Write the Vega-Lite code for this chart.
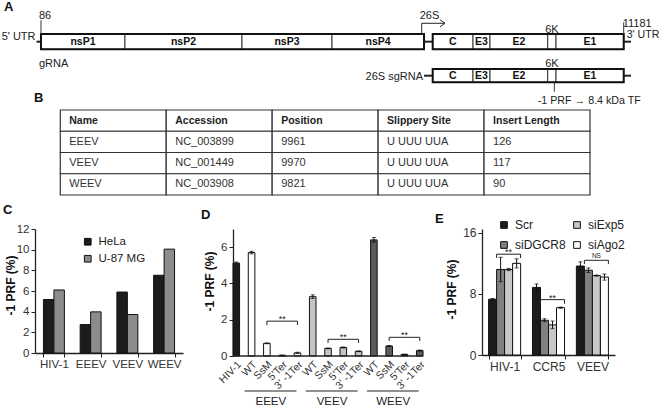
{
  "$schema": "https://vega.github.io/schema/vega-lite/v6.json",
  "padding": {"left": 1, "top": 0, "right": 0, "bottom": 0},
  "background": "white",
  "bounds": "flush",
  "spacing": 34,
  "resolve": {"scale": {"color": "independent", "xOffset": "independent"}, "legend": {"color": "independent"}},
  "config": {
    "view": {"stroke": null},
    "font": "Liberation Sans",
    "title": {"font": "Liberation Sans", "fontSize": 13, "fontWeight": "bold", "color": "#111", "anchor": "start", "frame": "group"},
    "axis": {"grid": false, "domainColor": "#222", "domainWidth": 1.3, "tickColor": "#222", "tickSize": 4, "labelColor": "#333", "labelFont": "Liberation Sans", "labelFontSize": 11.5, "labelPadding": 2, "titleFont": "Liberation Sans", "titleFontSize": 12, "titleFontWeight": "bold", "titleColor": "#111"},
    "text": {"font": "Liberation Sans", "color": "#222"}
  },
  "datasets": {
    "genes": [
      {"gene": "nsP1", "start": 86, "end": 1685, "rna": "gRNA"},
      {"gene": "nsP2", "start": 1685, "end": 3913, "rna": "gRNA"},
      {"gene": "nsP3", "start": 3913, "end": 5627, "rna": "gRNA"},
      {"gene": "nsP4", "start": 5627, "end": 7379, "rna": "gRNA"},
      {"gene": "C", "start": 7544, "end": 8312, "rna": "gRNA"},
      {"gene": "E3", "start": 8312, "end": 8635, "rna": "gRNA"},
      {"gene": "E2", "start": 8635, "end": 9734, "rna": "gRNA"},
      {"gene": "6K", "start": 9734, "end": 9892, "rna": "gRNA"},
      {"gene": "E1", "start": 9892, "end": 11181, "rna": "gRNA"},
      {"gene": "C", "start": 7544, "end": 8312, "rna": "sgRNA"},
      {"gene": "E3", "start": 8312, "end": 8635, "rna": "sgRNA"},
      {"gene": "E2", "start": 8635, "end": 9734, "rna": "sgRNA"},
      {"gene": "6K", "start": 9734, "end": 9892, "rna": "sgRNA"},
      {"gene": "E1", "start": 9892, "end": 11181, "rna": "sgRNA"}
    ],
    "orfs": [
      {"rna": "gRNA", "start": 86, "end": 7379},
      {"rna": "gRNA", "start": 7544, "end": 11181},
      {"rna": "sgRNA", "start": 7544, "end": 11181}
    ],
    "backbone": [
      {"rna": "gRNA", "start": 1, "end": 86},
      {"rna": "gRNA", "start": 7379, "end": 7544},
      {"rna": "gRNA", "start": 11181, "end": 11320},
      {"rna": "sgRNA", "start": 7379, "end": 7544},
      {"rna": "sgRNA", "start": 11181, "end": 11320}
    ],
    "sites": [
      {"site": "86", "pos": 86},
      {"site": "11181", "pos": 11181},
      {"site": "26S", "pos": 7335},
      {"site": "PRF", "pos": 9860}
    ],
    "labels": [
      {"text": "5' UTR", "pos": 1},
      {"text": "3' UTR", "pos": 11181},
      {"text": "gRNA", "pos": 86},
      {"text": "26S sgRNA", "pos": 7379},
      {"text": "-1 PRF → 8.4 kDa TF", "pos": 9860}
    ],
    "table": [
      {"row": "header", "Name": "Name", "Accession": "Accession", "Position": "Position", "Slippery Site": "Slippery Site", "Insert Length": "Insert Length"},
      {"row": "EEEV", "Name": "EEEV", "Accession": "NC_003899", "Position": "9961", "Slippery Site": "U UUU UUA", "Insert Length": "126"},
      {"row": "VEEV", "Name": "VEEV", "Accession": "NC_001449", "Position": "9970", "Slippery Site": "U UUU UUA", "Insert Length": "117"},
      {"row": "WEEV", "Name": "WEEV", "Accession": "NC_003908", "Position": "9821", "Slippery Site": "U UUU UUA", "Insert Length": "90"}
    ],
    "panelC": [
      {"virus": "HIV-1", "cell": "HeLa", "value": 5.17},
      {"virus": "HIV-1", "cell": "U-87 MG", "value": 6.1},
      {"virus": "EEEV", "cell": "HeLa", "value": 2.75},
      {"virus": "EEEV", "cell": "U-87 MG", "value": 3.98},
      {"virus": "VEEV", "cell": "HeLa", "value": 5.9},
      {"virus": "VEEV", "cell": "U-87 MG", "value": 3.72},
      {"virus": "WEEV", "cell": "HeLa", "value": 7.52},
      {"virus": "WEEV", "cell": "U-87 MG", "value": 10.05}
    ],
    "panelD": [
      {"key": "HIV-1", "virus": "HIV-1", "value": 5.12, "err": 0.06},
      {"key": "EEEV|WT", "virus": "EEEV", "value": 5.7, "err": 0.07},
      {"key": "EEEV|SsM", "virus": "EEEV", "value": 0.7, "err": 0.02},
      {"key": "EEEV|5'Ter", "virus": "EEEV", "value": 0.04, "err": 0.01},
      {"key": "EEEV|3' -1Ter", "virus": "EEEV", "value": 0.17, "err": 0.03},
      {"key": "VEEV|WT", "virus": "VEEV", "value": 3.27, "err": 0.1},
      {"key": "VEEV|SsM", "virus": "VEEV", "value": 0.42, "err": 0.02},
      {"key": "VEEV|5'Ter", "virus": "VEEV", "value": 0.47, "err": 0.03},
      {"key": "VEEV|3' -1Ter", "virus": "VEEV", "value": 0.26, "err": 0.02},
      {"key": "WEEV|WT", "virus": "WEEV", "value": 6.4, "err": 0.13},
      {"key": "WEEV|SsM", "virus": "WEEV", "value": 0.55, "err": 0.03},
      {"key": "WEEV|5'Ter", "virus": "WEEV", "value": 0.09, "err": 0.01},
      {"key": "WEEV|3' -1Ter", "virus": "WEEV", "value": 0.3, "err": 0.03}
    ],
    "bracketsD": [
      {"from": "EEEV|SsM", "to": "EEEV|3' -1Ter", "mid": "EEEV|5'Ter", "top": 1.92, "bottom": 1.7, "label": "**"},
      {"from": "VEEV|SsM", "to": "VEEV|3' -1Ter", "mid": "VEEV|5'Ter", "top": 0.92, "bottom": 0.72, "label": "**"},
      {"from": "WEEV|SsM", "to": "WEEV|3' -1Ter", "mid": "WEEV|5'Ter", "top": 1.03, "bottom": 0.83, "label": "**"}
    ],
    "groupsD": [
      {"group": "EEEV", "from": "EEEV|WT", "to": "EEEV|3' -1Ter", "at": "EEEV|SsM"},
      {"group": "VEEV", "from": "VEEV|WT", "to": "VEEV|3' -1Ter", "at": "VEEV|SsM"},
      {"group": "WEEV", "from": "WEEV|WT", "to": "WEEV|3' -1Ter", "at": "WEEV|SsM"}
    ],
    "panelE": [
      {"group": "HIV-1", "siRNA": "Scr", "value": 7.3, "err": 0.1},
      {"group": "HIV-1", "siRNA": "siDGCR8", "value": 11.2, "err": 1.6},
      {"group": "HIV-1", "siRNA": "siExp5", "value": 11.2, "err": 0.15},
      {"group": "HIV-1", "siRNA": "siAgo2", "value": 12.0, "err": 0.6},
      {"group": "CCR5", "siRNA": "Scr", "value": 8.85, "err": 0.45},
      {"group": "CCR5", "siRNA": "siDGCR8", "value": 4.55, "err": 0.2},
      {"group": "CCR5", "siRNA": "siExp5", "value": 3.95, "err": 0.5},
      {"group": "CCR5", "siRNA": "siAgo2", "value": 6.2, "err": 0.08},
      {"group": "VEEV", "siRNA": "Scr", "value": 11.65, "err": 0.55},
      {"group": "VEEV", "siRNA": "siDGCR8", "value": 11.1, "err": 0.3},
      {"group": "VEEV", "siRNA": "siExp5", "value": 10.4, "err": 0.08},
      {"group": "VEEV", "siRNA": "siAgo2", "value": 10.2, "err": 0.4}
    ],
    "bracketsE": [
      {"group": "HIV-1", "top": 13.2, "bottom": 12.7, "label": "**"},
      {"group": "CCR5", "top": 7.25, "bottom": 6.7, "label": "**"},
      {"group": "VEEV", "top": 12.4, "bottom": 11.9, "label": "NS"}
    ]
  },
  "vconcat": [
    {
      "width": 626,
      "height": 76,
      "title": {"text": "A", "dx": -31, "dy": 14, "offset": 0},
      "layer": [
        {
          "data": {"name": "backbone"},
          "transform": [{"filter": {"field": "rna", "equal": "gRNA"}}],
          "mark": {"type": "rule", "strokeWidth": 2, "color": "#222"},
          "encoding": {
            "x": {"field": "start", "type": "quantitative", "scale": {"domain": [-28, 11891], "nice": false, "zero": false}, "axis": null},
            "x2": {"field": "end"},
            "y": {"datum": 1, "type": "quantitative", "scale": {"domain": [-0.226, 2.009], "reverse": true, "nice": false, "zero": false}, "axis": null}
          }
        },
        {
          "data": {"name": "backbone"},
          "transform": [{"filter": {"field": "rna", "equal": "sgRNA"}}],
          "mark": {"type": "rule", "strokeWidth": 2, "color": "#222"},
          "encoding": {
            "x": {"field": "start", "type": "quantitative"},
            "x2": {"field": "end"},
            "y": {"datum": 2, "type": "quantitative"}
          }
        },
        {
          "data": {"name": "genes"},
          "transform": [{"filter": {"field": "rna", "equal": "gRNA"}}],
          "mark": {"type": "rect", "fill": "white", "stroke": "#333", "strokeWidth": 1},
          "encoding": {
            "x": {"field": "start", "type": "quantitative"},
            "x2": {"field": "end"},
            "y": {"datum": 0.7735, "type": "quantitative"},
            "y2": {"datum": 1.2235}
          }
        },
        {
          "data": {"name": "genes"},
          "transform": [{"filter": {"field": "rna", "equal": "sgRNA"}}],
          "mark": {"type": "rect", "fill": "white", "stroke": "#333", "strokeWidth": 1},
          "encoding": {
            "x": {"field": "start", "type": "quantitative"},
            "x2": {"field": "end"},
            "y": {"datum": 1.803, "type": "quantitative"},
            "y2": {"datum": 2.194}
          }
        },
        {
          "data": {"name": "orfs"},
          "transform": [{"filter": {"field": "rna", "equal": "gRNA"}}],
          "mark": {"type": "rect", "fillOpacity": 0, "stroke": "#111", "strokeWidth": 2},
          "encoding": {
            "x": {"field": "start", "type": "quantitative"},
            "x2": {"field": "end"},
            "y": {"datum": 0.7735, "type": "quantitative"},
            "y2": {"datum": 1.2235}
          }
        },
        {
          "data": {"name": "orfs"},
          "transform": [{"filter": {"field": "rna", "equal": "sgRNA"}}],
          "mark": {"type": "rect", "fillOpacity": 0, "stroke": "#111", "strokeWidth": 2},
          "encoding": {
            "x": {"field": "start", "type": "quantitative"},
            "x2": {"field": "end"},
            "y": {"datum": 1.803, "type": "quantitative"},
            "y2": {"datum": 2.194}
          }
        },
        {
          "data": {"name": "genes"},
          "transform": [
            {"filter": {"field": "rna", "equal": "gRNA"}},
            {"fold": ["start", "end"], "as": ["edge", "pos"]},
            {"aggregate": [{"op": "mean", "field": "pos", "as": "mid"}], "groupby": ["gene"]},
            {"filter": {"not": {"field": "gene", "equal": "6K"}}}
          ],
          "mark": {"type": "text", "fontWeight": "bold", "fontSize": 10.5, "baseline": "middle", "align": "center", "color": "#111"},
          "encoding": {
            "x": {"field": "mid", "type": "quantitative"},
            "y": {"datum": 1.0, "type": "quantitative"},
            "text": {"field": "gene"}
          }
        },
        {
          "data": {"name": "genes"},
          "transform": [
            {"filter": {"field": "rna", "equal": "sgRNA"}},
            {"fold": ["start", "end"], "as": ["edge", "pos"]},
            {"aggregate": [{"op": "mean", "field": "pos", "as": "mid"}], "groupby": ["gene"]},
            {"filter": {"not": {"field": "gene", "equal": "6K"}}}
          ],
          "mark": {"type": "text", "fontWeight": "bold", "fontSize": 10.5, "baseline": "middle", "align": "center", "color": "#111"},
          "encoding": {
            "x": {"field": "mid", "type": "quantitative"},
            "y": {"datum": 2.0, "type": "quantitative"},
            "text": {"field": "gene"}
          }
        },
        {
          "data": {"name": "genes"},
          "transform": [
            {"filter": {"field": "rna", "equal": "gRNA"}},
            {"fold": ["start", "end"], "as": ["edge", "pos"]},
            {"aggregate": [{"op": "mean", "field": "pos", "as": "mid"}], "groupby": ["gene"]},
            {"filter": {"field": "gene", "equal": "6K"}}
          ],
          "mark": {"type": "text", "fontSize": 11, "baseline": "alphabetic", "align": "center"},
          "encoding": {
            "x": {"field": "mid", "type": "quantitative"},
            "y": {"datum": 0.744, "type": "quantitative"},
            "text": {"field": "gene"}
          }
        },
        {
          "data": {"name": "genes"},
          "transform": [
            {"filter": {"field": "rna", "equal": "sgRNA"}},
            {"fold": ["start", "end"], "as": ["edge", "pos"]},
            {"aggregate": [{"op": "mean", "field": "pos", "as": "mid"}], "groupby": ["gene"]},
            {"filter": {"field": "gene", "equal": "6K"}}
          ],
          "mark": {"type": "text", "fontSize": 11, "baseline": "alphabetic", "align": "center"},
          "encoding": {
            "x": {"field": "mid", "type": "quantitative"},
            "y": {"datum": 1.753, "type": "quantitative"},
            "text": {"field": "gene"}
          }
        },
        {
          "data": {"name": "sites"},
          "transform": [{"filter": {"field": "site", "equal": "86"}}],
          "mark": {"type": "rule", "color": "#333", "strokeWidth": 1},
          "encoding": {
            "x": {"field": "pos", "type": "quantitative"},
            "y": {"datum": 0.37, "type": "quantitative"},
            "y2": {"datum": 0.7735}
          }
        },
        {
          "data": {"name": "sites"},
          "transform": [{"filter": {"field": "site", "equal": "11181"}}],
          "mark": {"type": "rule", "color": "#333", "strokeWidth": 1},
          "encoding": {
            "x": {"field": "pos", "type": "quantitative"},
            "y": {"datum": 0.43, "type": "quantitative"},
            "y2": {"datum": 0.7735}
          }
        },
        {
          "data": {"name": "sites"},
          "transform": [{"filter": {"field": "site", "equal": "26S"}}],
          "mark": {"type": "rule", "color": "#222", "strokeWidth": 1},
          "encoding": {
            "x": {"field": "pos", "type": "quantitative"},
            "y": {"datum": 0.459, "type": "quantitative"},
            "y2": {"datum": 0.7735}
          }
        },
        {
          "data": {"name": "sites"},
          "transform": [{"filter": {"field": "site", "equal": "26S"}}],
          "mark": {"type": "rule", "color": "#222", "strokeWidth": 1},
          "encoding": {
            "x": {"field": "pos", "type": "quantitative"},
            "x2": {"datum": 7778},
            "y": {"datum": 0.459, "type": "quantitative"}
          }
        },
        {
          "data": {"name": "sites"},
          "transform": [{"filter": {"field": "site", "equal": "26S"}}],
          "mark": {"type": "point", "shape": "M-1.4,-1L0,0L-1.4,1", "filled": false, "size": 49, "stroke": "#222", "strokeWidth": 1, "opacity": 1},
          "encoding": {
            "x": {"datum": 7778, "type": "quantitative"},
            "y": {"datum": 0.459, "type": "quantitative"}
          }
        },
        {
          "data": {"name": "sites"},
          "transform": [{"filter": {"field": "site", "equal": "PRF"}}],
          "mark": {"type": "rule", "color": "#333", "strokeWidth": 1},
          "encoding": {
            "x": {"field": "pos", "type": "quantitative"},
            "y": {"datum": 2.194, "type": "quantitative"},
            "y2": {"datum": 2.471}
          }
        },
        {
          "data": {"name": "sites"},
          "transform": [{"filter": {"field": "site", "oneOf": ["86", "26S"]}}],
          "mark": {"type": "text", "fontSize": 11, "align": "left", "baseline": "alphabetic", "dx": -2, "dy": -1},
          "encoding": {
            "x": {"field": "pos", "type": "quantitative"},
            "y": {"datum": 0.37, "type": "quantitative"},
            "text": {"field": "site"}
          }
        },
        {
          "data": {"name": "sites"},
          "transform": [{"filter": {"field": "site", "equal": "11181"}}],
          "mark": {"type": "text", "fontSize": 11, "align": "left", "baseline": "alphabetic", "dx": -1},
          "encoding": {
            "x": {"field": "pos", "type": "quantitative"},
            "y": {"datum": 0.568, "type": "quantitative"},
            "text": {"field": "site"}
          }
        },
        {
          "data": {"name": "labels"},
          "transform": [{"filter": {"field": "text", "equal": "5' UTR"}}],
          "mark": {"type": "text", "fontSize": 11, "align": "right", "baseline": "alphabetic", "dx": -1},
          "encoding": {
            "x": {"field": "pos", "type": "quantitative"},
            "y": {"datum": 0.95, "type": "quantitative"},
            "text": {"field": "text"}
          }
        },
        {
          "data": {"name": "labels"},
          "transform": [{"filter": {"field": "text", "equal": "3' UTR"}}],
          "mark": {"type": "text", "fontSize": 10.6, "align": "left", "baseline": "alphabetic", "dx": 3},
          "encoding": {
            "x": {"field": "pos", "type": "quantitative"},
            "y": {"datum": 0.89, "type": "quantitative"},
            "text": {"field": "text"}
          }
        },
        {
          "data": {"name": "labels"},
          "transform": [{"filter": {"field": "text", "equal": "gRNA"}}],
          "mark": {"type": "text", "fontSize": 11, "align": "left", "baseline": "alphabetic", "dx": -2},
          "encoding": {
            "x": {"field": "pos", "type": "quantitative"},
            "y": {"datum": 1.744, "type": "quantitative"},
            "text": {"field": "text"}
          }
        },
        {
          "data": {"name": "labels"},
          "transform": [{"filter": {"field": "text", "equal": "26S sgRNA"}}],
          "mark": {"type": "text", "fontSize": 11, "align": "right", "baseline": "alphabetic", "dx": -1},
          "encoding": {
            "x": {"field": "pos", "type": "quantitative"},
            "y": {"datum": 2.126, "type": "quantitative"},
            "text": {"field": "text"}
          }
        },
        {
          "data": {"name": "labels"},
          "transform": [{"filter": {"field": "text", "equal": "-1 PRF → 8.4 kDa TF"}}],
          "mark": {"type": "text", "fontSize": 10.7, "align": "left", "baseline": "alphabetic", "dx": -16.6},
          "encoding": {
            "x": {"field": "pos", "type": "quantitative"},
            "y": {"datum": 2.832, "type": "quantitative"},
            "text": {"field": "text"}
          }
        }
      ]
    },
    {
      "width": 555,
      "height": 85,
      "title": {"text": "B", "dx": -1, "offset": 4},
      "data": {"name": "table"},
      "transform": [{"fold": ["Name", "Accession", "Position", "Slippery Site", "Insert Length"], "as": ["col", "cell"]}],
      "encoding": {
        "x": {"field": "col", "type": "nominal", "scale": {"domain": ["Name", "Accession", "Position", "Slippery Site", "Insert Length"], "paddingInner": 0, "paddingOuter": 0.1193, "align": 1}, "axis": null},
        "y": {"field": "row", "type": "nominal", "scale": {"domain": ["header", "EEEV", "VEEV", "WEEV"], "paddingInner": 0, "paddingOuter": 0}, "axis": null}
      },
      "layer": [
        {"mark": {"type": "rect", "fill": "white", "stroke": "#333", "strokeWidth": 1.2}},
        {
          "transform": [{"filter": {"field": "row", "equal": "header"}}],
          "mark": {"type": "text", "fontWeight": "bold", "fontSize": 10.5, "align": "left", "baseline": "middle", "dx": 9, "color": "#222"},
          "encoding": {
            "x": {"field": "col", "type": "nominal", "bandPosition": 0},
            "text": {"field": "cell"}
          }
        },
        {
          "transform": [{"filter": {"not": {"field": "row", "equal": "header"}}}],
          "mark": {"type": "text", "fontSize": 11, "align": "left", "baseline": "middle", "dx": 9, "color": "#333"},
          "encoding": {
            "x": {"field": "col", "type": "nominal", "bandPosition": 0},
            "text": {"field": "cell"}
          }
        }
      ]
    },
    {
      "bounds": "flush",
      "spacing": 50,
      "resolve": {"scale": {"color": "independent", "xOffset": "independent"}, "legend": {"color": "independent"}},
      "hconcat": [
        {
          "width": 148,
          "height": 124,
          "title": {"text": "C", "dx": -32, "offset": 6},
          "data": {"name": "panelC"},
          "mark": {"type": "bar", "stroke": "#111", "strokeWidth": 1},
          "encoding": {
            "x": {"field": "virus", "type": "nominal", "scale": {"domain": ["HIV-1", "EEEV", "VEEV", "WEEV"], "paddingInner": 0.43, "paddingOuter": 0.23}, "axis": {"title": null, "labelAngle": 0, "tickBand": "extent", "labelPadding": 1}},
            "xOffset": {"field": "cell", "type": "nominal", "scale": {"domain": ["HeLa", "U-87 MG"], "paddingInner": 0, "paddingOuter": 0}},
            "y": {"field": "value", "type": "quantitative", "title": "-1 PRF (%)", "scale": {"domain": [0, 12], "nice": false}, "axis": {"values": [0, 2, 4, 6, 8, 10, 12], "titleX": -17.5, "titleY": 56}},
            "color": {"field": "cell", "type": "nominal", "scale": {"domain": ["HeLa", "U-87 MG"], "range": ["#1c1c1c", "#8c8c8c"]}, "legend": {"orient": "none", "legendX": 47, "legendY": 7, "title": null, "symbolType": "square", "symbolSize": 45, "symbolStrokeColor": "#111", "symbolStrokeWidth": 1, "labelFontSize": 11.5, "labelColor": "#222", "labelOffset": 5, "rowPadding": 4, "padding": 0}}
          }
        },
        {
          "width": 199,
          "height": 127,
          "title": {"text": "D", "dx": -32, "offset": 7.5},
          "layer": [
            {
              "data": {"name": "panelD"},
              "mark": {"type": "bar", "stroke": "#111", "strokeWidth": 1},
              "encoding": {
                "x": {"field": "key", "type": "nominal", "scale": {"domain": ["HIV-1", "EEEV|WT", "EEEV|SsM", "EEEV|5'Ter", "EEEV|3' -1Ter", "VEEV|WT", "VEEV|SsM", "VEEV|5'Ter", "VEEV|3' -1Ter", "WEEV|WT", "WEEV|SsM", "WEEV|5'Ter", "WEEV|3' -1Ter"], "paddingInner": 0.57, "paddingOuter": 0.2925, "align": 0}, "axis": {"title": null, "labelAngle": -45, "labelExpr": "indexof(datum.label,'|')>=0 ? split(datum.label,'|')[1] : datum.label", "ticks": false, "domain": false, "labelFontSize": 10.5, "labelPadding": 3, "labelOverlap": false}},
                "y": {"field": "value", "type": "quantitative", "title": "-1 PRF (%)", "scale": {"domain": [0, 7], "nice": false}, "axis": {"values": [0, 1, 2, 3, 4, 5, 6, 7], "titleX": -16.5, "titleY": 52}},
                "color": {"field": "virus", "type": "nominal", "scale": {"domain": ["HIV-1", "EEEV", "VEEV", "WEEV"], "range": ["#1c1c1c", "#ffffff", "#c4c4c4", "#5c5c5c"]}, "legend": null}
              }
            },
            {
              "data": {"name": "panelD"},
              "transform": [{"filter": {"field": "key", "equal": "HIV-1"}}],
              "mark": {"type": "rule", "color": "#222", "strokeWidth": 1.3, "xOffset": -3.3, "x2Offset": 3.3},
              "encoding": {
                "x": {"field": "key", "type": "nominal"},
                "x2": {"datum": "WEEV|3' -1Ter"},
                "y": {"datum": 0, "type": "quantitative"}
              }
            },
            {
              "data": {"name": "panelD"},
              "mark": {"type": "errorbar", "color": "#111", "ticks": {"size": 4}},
              "encoding": {
                "x": {"field": "key", "type": "nominal"},
                "y": {"field": "value", "type": "quantitative", "title": "-1 PRF (%)"},
                "yError": {"field": "err"}
              }
            },
            {
              "data": {"name": "bracketsD"},
              "mark": {"type": "rule", "color": "#222", "strokeWidth": 1},
              "encoding": {
                "x": {"field": "from", "type": "nominal"},
                "x2": {"field": "to"},
                "y": {"field": "top", "type": "quantitative", "title": "-1 PRF (%)"}
              }
            },
            {
              "data": {"name": "bracketsD"},
              "mark": {"type": "rule", "color": "#222", "strokeWidth": 1},
              "encoding": {
                "x": {"field": "from", "type": "nominal"},
                "y": {"field": "top", "type": "quantitative", "title": "-1 PRF (%)"},
                "y2": {"field": "bottom"}
              }
            },
            {
              "data": {"name": "bracketsD"},
              "mark": {"type": "rule", "color": "#222", "strokeWidth": 1},
              "encoding": {
                "x": {"field": "to", "type": "nominal"},
                "y": {"field": "top", "type": "quantitative", "title": "-1 PRF (%)"},
                "y2": {"field": "bottom"}
              }
            },
            {
              "data": {"name": "bracketsD"},
              "mark": {"type": "text", "fontSize": 9, "baseline": "alphabetic", "align": "center", "dy": 1},
              "encoding": {
                "x": {"field": "mid", "type": "nominal"},
                "y": {"field": "top", "type": "quantitative", "title": "-1 PRF (%)"},
                "text": {"field": "label"}
              }
            },
            {
              "data": {"name": "groupsD"},
              "mark": {"type": "rule", "color": "#222", "strokeWidth": 1.2, "xOffset": -7, "x2Offset": -1},
              "encoding": {
                "x": {"field": "from", "type": "nominal"},
                "x2": {"field": "to"},
                "y": {"datum": -1.93, "type": "quantitative"}
              }
            },
            {
              "data": {"name": "groupsD"},
              "mark": {"type": "text", "fontSize": 11.5, "baseline": "middle", "align": "center", "dx": 4, "color": "#222"},
              "encoding": {
                "x": {"field": "at", "type": "nominal"},
                "y": {"datum": -2.52, "type": "quantitative"},
                "text": {"field": "group"}
              }
            }
          ]
        },
        {
          "width": 133,
          "height": 126,
          "title": {"text": "E", "dx": -47, "dy": 6.5, "offset": 0},
          "layer": [
            {
              "data": {"name": "panelE"},
              "mark": {"type": "bar", "stroke": "#111", "strokeWidth": 1},
              "encoding": {
                "x": {"field": "group", "type": "nominal", "scale": {"domain": ["HIV-1", "CCR5", "VEEV"], "paddingInner": 0.27, "paddingOuter": 0.15}, "axis": {"title": null, "labelAngle": 0, "tickBand": "extent", "labelFontSize": 12, "labelPadding": 2}},
                "xOffset": {"field": "siRNA", "type": "nominal", "scale": {"domain": ["Scr", "siDGCR8", "siExp5", "siAgo2"], "paddingInner": 0, "paddingOuter": 0}},
                "y": {"field": "value", "type": "quantitative", "title": "-1 PRF (%)", "scale": {"domain": [0, 16.5], "nice": false}, "axis": {"values": [0, 4, 8, 12, 16], "titleX": -23.5, "titleY": 60, "labelFontSize": 12}},
                "color": {"field": "siRNA", "type": "nominal", "scale": {"domain": ["Scr", "siDGCR8", "siExp5", "siAgo2"], "range": ["#1c1c1c", "#808080", "#c8c8c8", "#ffffff"]}, "legend": {"orient": "none", "legendX": 16, "legendY": -10, "columns": 2, "title": null, "symbolType": "square", "symbolSize": 45, "symbolStrokeColor": "#111", "symbolStrokeWidth": 1, "labelFontSize": 12, "labelColor": "#222", "labelOffset": 5, "rowPadding": 8, "columnPadding": 5, "padding": 0}}
              }
            },
            {
              "data": {"name": "panelE"},
              "mark": {"type": "errorbar", "color": "#111", "ticks": {"size": 4}},
              "encoding": {
                "x": {"field": "group", "type": "nominal"},
                "xOffset": {"field": "siRNA", "type": "nominal"},
                "y": {"field": "value", "type": "quantitative", "title": "-1 PRF (%)"},
                "yError": {"field": "err"}
              }
            },
            {
              "data": {"name": "bracketsE"},
              "mark": {"type": "rule", "color": "#222", "strokeWidth": 1, "xOffset": -8, "x2Offset": 16},
              "encoding": {
                "x": {"field": "group", "type": "nominal"},
                "x2": {"field": "group"},
                "y": {"field": "top", "type": "quantitative", "title": "-1 PRF (%)"}
              }
            },
            {
              "data": {"name": "bracketsE"},
              "mark": {"type": "rule", "color": "#222", "strokeWidth": 1, "xOffset": -8},
              "encoding": {
                "x": {"field": "group", "type": "nominal"},
                "y": {"field": "top", "type": "quantitative", "title": "-1 PRF (%)"},
                "y2": {"field": "bottom"}
              }
            },
            {
              "data": {"name": "bracketsE"},
              "mark": {"type": "rule", "color": "#222", "strokeWidth": 1, "xOffset": 16},
              "encoding": {
                "x": {"field": "group", "type": "nominal"},
                "y": {"field": "top", "type": "quantitative", "title": "-1 PRF (%)"},
                "y2": {"field": "bottom"}
              }
            },
            {
              "data": {"name": "bracketsE"},
              "transform": [{"filter": {"field": "label", "equal": "**"}}],
              "mark": {"type": "text", "fontSize": 9, "baseline": "alphabetic", "align": "center", "dy": 1, "xOffset": 4},
              "encoding": {
                "x": {"field": "group", "type": "nominal"},
                "y": {"field": "top", "type": "quantitative", "title": "-1 PRF (%)"},
                "text": {"field": "label"}
              }
            },
            {
              "data": {"name": "bracketsE"},
              "transform": [{"filter": {"field": "label", "equal": "NS"}}],
              "mark": {"type": "text", "fontSize": 6.5, "baseline": "alphabetic", "align": "center", "dy": -2, "xOffset": 4},
              "encoding": {
                "x": {"field": "group", "type": "nominal"},
                "y": {"field": "top", "type": "quantitative", "title": "-1 PRF (%)"},
                "text": {"field": "label"}
              }
            }
          ]
        }
      ]
    }
  ]
}
